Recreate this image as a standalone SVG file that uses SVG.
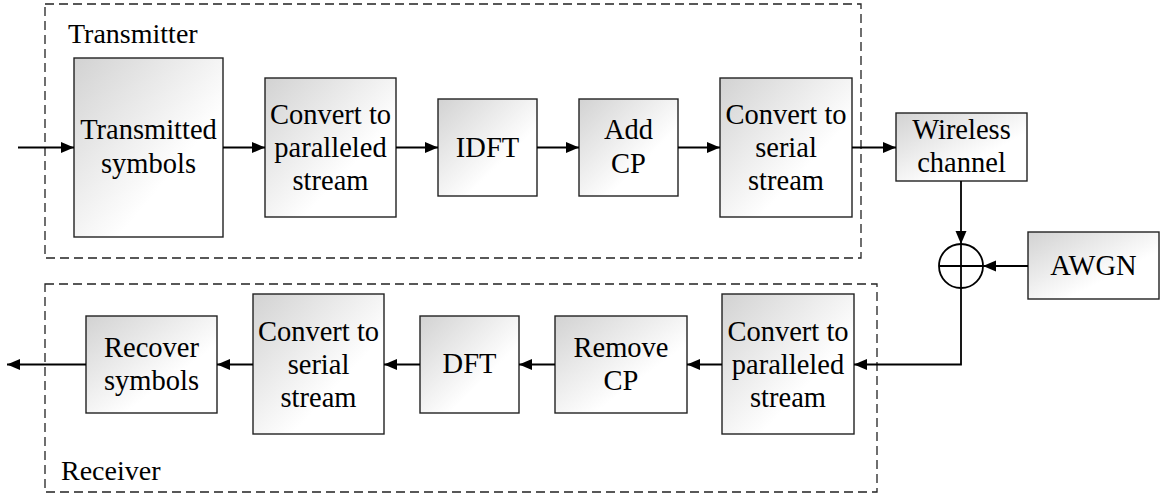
<svg xmlns="http://www.w3.org/2000/svg" width="1171" height="496" viewBox="0 0 1171 496">
<defs>
<linearGradient id="g" x1="0" y1="0" x2="1" y2="1">
<stop offset="0" stop-color="#d2d2d2"/>
<stop offset="0.65" stop-color="#ffffff"/>
</linearGradient>
<marker id="ah" markerUnits="userSpaceOnUse" markerWidth="14" markerHeight="12" refX="13" refY="5.5" orient="auto">
<path d="M0,0 L13,5.5 L0,11 z" fill="#000"/>
</marker>
</defs>
<style>
.box{fill:url(#g);stroke:#222;stroke-width:1.4}
.grp{fill:none;stroke:#222;stroke-width:1.3;stroke-dasharray:9 5}
.t{font-family:"Liberation Serif","Times New Roman",serif;font-size:28.5px;fill:#000;text-anchor:middle}
.lbl{font-family:"Liberation Serif","Times New Roman",serif;font-size:28px;fill:#000}
.ca{fill:none;stroke:#000;stroke-width:1.8;marker-end:url(#ah)}
</style>
<rect width="1171" height="496" fill="#fff"/>
<g id="transmitter">
<rect class="grp" x="45" y="4" width="816" height="254"/>
<text class="lbl" x="68" y="43">Transmitter</text>
</g>
<g id="receiver">
<rect class="grp" x="45" y="284" width="832" height="208"/>
<text class="lbl" x="61" y="480">Receiver</text>
</g>
<g id="tx-symbols">
<rect class="box" x="74" y="58" width="149" height="179"/>
<text class="t" x="148.5" y="139">Transmitted</text>
<text class="t" x="148.5" y="173">symbols</text>
</g>
<g id="tx-s2p">
<rect class="box" x="265" y="78" width="131" height="139"/>
<text class="t" x="330.5" y="124">Convert to</text>
<text class="t" x="330.5" y="157">paralleled</text>
<text class="t" x="330.5" y="190">stream</text>
</g>
<g id="idft">
<rect class="box" x="438" y="99" width="99" height="97"/>
<text class="t" x="487.5" y="157">IDFT</text>
</g>
<g id="addcp">
<rect class="box" x="579" y="99" width="99" height="97"/>
<text class="t" x="628.5" y="139">Add</text>
<text class="t" x="628.5" y="173">CP</text>
</g>
<g id="tx-p2s">
<rect class="box" x="720" y="78" width="132" height="139"/>
<text class="t" x="786" y="124">Convert to</text>
<text class="t" x="786" y="157">serial</text>
<text class="t" x="786" y="190">stream</text>
</g>
<g id="channel">
<rect class="box" x="896" y="113" width="131" height="68"/>
<text class="t" x="961.5" y="139">Wireless</text>
<text class="t" x="961.5" y="172">channel</text>
</g>
<g id="adder">
<circle cx="961" cy="266" r="22" fill="#fff" stroke="#000" stroke-width="1.8"/>
<path d="M939,266 H983 M961,244 V288" stroke="#000" stroke-width="1.8" fill="none"/>
</g>
<g id="awgn">
<rect class="box" x="1028" y="232" width="131" height="67"/>
<text class="t" x="1093.5" y="275">AWGN</text>
</g>
<g id="rx-s2p">
<rect class="box" x="722" y="294" width="132" height="140"/>
<text class="t" x="788" y="341">Convert to</text>
<text class="t" x="788" y="374">paralleled</text>
<text class="t" x="788" y="407">stream</text>
</g>
<g id="removecp">
<rect class="box" x="555" y="316" width="132" height="97"/>
<text class="t" x="621" y="357">Remove</text>
<text class="t" x="621" y="390">CP</text>
</g>
<g id="dft">
<rect class="box" x="420" y="316" width="99" height="97"/>
<text class="t" x="469.5" y="373">DFT</text>
</g>
<g id="rx-p2s">
<rect class="box" x="253" y="294" width="131" height="140"/>
<text class="t" x="318.5" y="341">Convert to</text>
<text class="t" x="318.5" y="374">serial</text>
<text class="t" x="318.5" y="407">stream</text>
</g>
<g id="recover">
<rect class="box" x="86" y="316" width="131" height="97"/>
<text class="t" x="151.5" y="357">Recover</text>
<text class="t" x="151.5" y="390">symbols</text>
</g>
<g id="connectors">
<path class="ca" d="M18,147.5 H74"/>
<path class="ca" d="M223,147.5 H265"/>
<path class="ca" d="M396,147.5 H438"/>
<path class="ca" d="M537,147.5 H579"/>
<path class="ca" d="M678,147.5 H720"/>
<path class="ca" d="M852,147.5 H896"/>
<path class="ca" d="M961,181 V244"/>
<path class="ca" d="M1028,266 H983"/>
<path class="ca" d="M961,288 V364.5 H854"/>
<path class="ca" d="M722,364.5 H687"/>
<path class="ca" d="M555,364.5 H519"/>
<path class="ca" d="M420,364.5 H384"/>
<path class="ca" d="M253,364.5 H217"/>
<path class="ca" d="M86,364.5 H7"/>
</g>
</svg>
